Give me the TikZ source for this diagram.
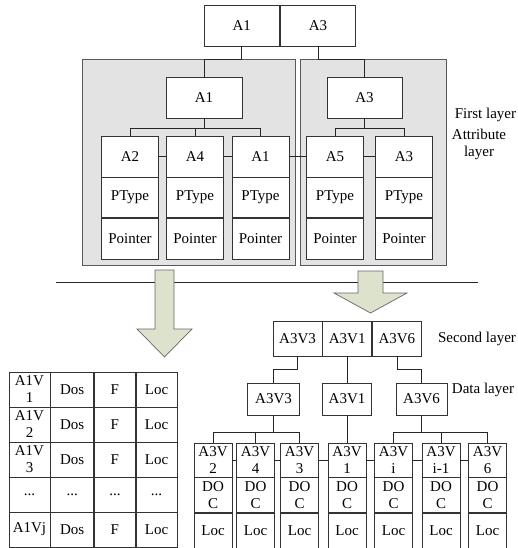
\documentclass[tikz,border=0pt]{standalone}
\usepackage{fontspec}
\setmainfont{Liberation Serif}
\usetikzlibrary{positioning, calc}
\definecolor{panelgray}{RGB}{227,227,227}
\definecolor{arrowsage}{RGB}{221,226,204}
\tikzset{
  cellbox/.style={draw=black!80, fill=white, inner sep=0pt, align=center,
      font=\fontsize{15}{17}\selectfont, minimum width=#1, line width=0.7pt},
  panelbox/.style={draw=black!65, fill=panelgray, line width=1pt, inner sep=0pt},
  blockarrow/.style={draw=black!60, fill=arrowsage, line width=0.7pt},
  link/.style={draw=black!85, line width=0.7pt},
  lyrlbl/.style={font=\fontsize{15}{17}\selectfont, align=center},
}

\begin{document}
\begin{tikzpicture}[x=1pt, y=-1pt]
        \useasboundingbox (0,0) rectangle (517,548);
        \node[panelbox, minimum width=213pt, minimum height=205pt] (panel-l) at (188.5,162.5) {};
        \node[panelbox, minimum width=146pt, minimum height=205pt] (panel-r) at (373,162.5) {};
        \node[cellbox=75.5pt, minimum height=41pt] (top-a1) at (241.75,25.5) {A1};
        \node[cellbox=75.5pt, minimum height=41pt, right=0pt of top-a1] (top-a3) {A3};
        \node[cellbox=76pt, minimum height=41pt] (first-a1) at (204,97.5) {A1};
        \node[cellbox=75pt, minimum height=41pt] (first-a3) at (364.5,97.5) {A3};
        \draw[link] (top-a1.south) -- (top-a1.south |- panel-l.north) -| (first-a1.north);
        \draw[link] (top-a3.south) -- (top-a3.south |- panel-r.north) -| (first-a3.north);
        \foreach \cx/\nm/\id in {130/A2/a, 195/A4/b, 260.5/A1/c, 335/A5/d, 404/A3/e}{
          \node[cellbox=57pt, minimum height=41pt] (attr-\id) at (\cx,156.5) {\nm};
          \node[cellbox=57pt, minimum height=40pt, below=0pt of attr-\id] (ptype-\id) {PType};
          \node[cellbox=57pt, minimum height=41pt, below=0pt of ptype-\id] (ptr-\id) {Pointer};
        }
        \foreach \id in {a,b,c}
          \draw[link] (first-a1.south) -- ++(0,10) -| (attr-\id.north);
        \foreach \id in {d,e}
          \draw[link] (first-a3.south) -- ++(0,10) -| (attr-\id.north);
        \foreach \i/\j in {a/b, b/c, c/d, d/e}
          \draw[link] (attr-\i.east) -- (attr-\j.west);

        \coordinate (sep-l) at (56,282);
        \coordinate (sep-r) at (478,282);
        \draw[link, line width=0.8pt] (sep-l) -- (sep-r);
        \draw[blockarrow] (155,270) -- (174,270) -- (174,329) -- (192,329) -- (164.5,357)
          -- (137,329) -- (155,329) -- cycle;
        \draw[blockarrow] (358,271) -- (383,271) -- (383,293) -- (407,293) -- (370.5,313)
          -- (334,293) -- (358,293) -- cycle;

        \foreach \r/\ry in {1/389.5, 2/424.5, 3/459.5}{
          \node[cellbox=41pt, minimum height=35pt] (tab-\r-1) at (29.5,\ry) {A1V\\\r};
          \node[cellbox=43pt, minimum height=35pt, right=0pt of tab-\r-1] (tab-\r-2) {Dos};
          \node[cellbox=41pt, minimum height=35pt, right=0pt of tab-\r-2] (tab-\r-3) {F};
          \node[cellbox=41pt, minimum height=35pt, right=0pt of tab-\r-3] (tab-\r-4) {Loc};
        }
        \node[cellbox=41pt, minimum height=35pt] (tab-4-1) at (29.5,494.5) {...};
        \node[cellbox=43pt, minimum height=35pt, right=0pt of tab-4-1] (tab-4-2) {...};
        \node[cellbox=41pt, minimum height=35pt, right=0pt of tab-4-2] (tab-4-3) {...};
        \node[cellbox=41pt, minimum height=35pt, right=0pt of tab-4-3] (tab-4-4) {...};
        \node[cellbox=41pt, minimum height=35pt] (tab-5-1) at (29.5,529.5) {A1Vj};
        \node[cellbox=43pt, minimum height=35pt, right=0pt of tab-5-1] (tab-5-2) {Dos};
        \node[cellbox=41pt, minimum height=35pt, right=0pt of tab-5-2] (tab-5-3) {F};
        \node[cellbox=41pt, minimum height=35pt, right=0pt of tab-5-3] (tab-5-4) {Loc};

        \node[cellbox=49pt, minimum height=35pt] (sec-v3) at (297.5,338.5) {A3V3};
        \node[cellbox=49pt, minimum height=35pt, right=0pt of sec-v3] (sec-v1) {A3V1};
        \node[cellbox=49pt, minimum height=35pt, right=0pt of sec-v1] (sec-v6) {A3V6};
        \node[cellbox=52pt, minimum height=32pt] (dat-v3) at (273.5,399) {A3V3};
        \node[cellbox=49pt, minimum height=32pt] (dat-v1) at (347,399) {A3V1};
        \node[cellbox=51pt, minimum height=32pt] (dat-v6) at (421.5,399) {A3V6};
        \draw[link] (sec-v3.south) -- ++(0,13) -| (dat-v3.north);
        \draw[link] (sec-v1.south) -- (sec-v1.south |- dat-v1.north);
        \draw[link] (sec-v6.south) -- ++(0,13) -| (dat-v6.north);
        \foreach \cx/\nm/\id in {213/2/1, 255.5/4/2, 299.5/3/3, 347/1/4, 393.5/i/5, 441/i-1/6, 487.5/6/7}{
          \node[cellbox=38pt, minimum height=34pt] (val-\id) at (\cx,460) {A3V\\\nm};
          \node[cellbox=38pt, minimum height=35pt, below=0pt of val-\id] (doc-\id) {DO\\C};
          \node[cellbox=38pt, minimum height=35pt, below=0pt of doc-\id] (loc-\id) {Loc};
        }
        \foreach \k in {1,2,3}
          \draw[link] (dat-v3.south) -- ++(0,17) -| (val-\k.north);
        \draw[link] (dat-v1.south) -- (val-4.north);
        \foreach \k in {5,6,7}
          \draw[link] (dat-v6.south) -- ++(0,17) -| (val-\k.north);
        \foreach \i/\j in {1/2, 2/3, 3/4, 4/5, 5/6, 6/7}
          \draw[link] (val-\i.east) -- (val-\j.west);

        \node[lyrlbl] (lbl-first) at (485.5,115) {First layer};
        \node[lyrlbl] (lbl-attr) at (479,144) {Attribute\\layer};
        \node[lyrlbl] (lbl-second) at (477,339) {Second layer};
        \node[lyrlbl] (lbl-data) at (483,390) {Data layer};
      \end{tikzpicture}
\end{document}
